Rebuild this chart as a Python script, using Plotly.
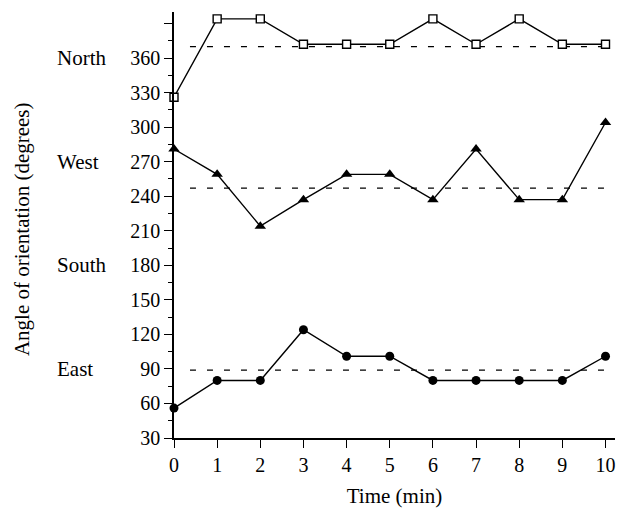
import plotly.graph_objects as go

time_min = [0, 1, 2, 3, 4, 5, 6, 7, 8, 9, 10]
north = [326, 394, 394, 372, 372, 372, 394, 372, 394, 372, 372]
west = [281, 259, 214, 237, 259, 259, 237, 281, 237, 237, 304]
east = [56, 80, 80, 124, 101, 101, 80, 80, 80, 80, 101]
mean_north = 370
mean_west = 247
mean_east = 89
mean_x = [0.37, 10.1]
direction_labels = ["North", "West", "South", "East"]
direction_angles = [360, 270, 180, 90]
ytick_vals = [30, 60, 90, 120, 150, 180, 210, 240, 270, 300, 330, 360, 390]
ytick_text = ["30", "60", "90", "120", "150", "180", "210", "240", "270", "300", "330", "360", ""]

FONT = "Liberation Serif, Times New Roman, serif"
fig = go.Figure()

for m in [mean_north, mean_west, mean_east]:
    fig.add_trace(go.Scatter(x=mean_x, y=[m, m], mode="lines",
                             line=dict(color="black", width=1.3, dash="6px,11px"),
                             showlegend=False, hoverinfo="skip"))

fig.add_trace(go.Scatter(x=time_min, y=north, mode="lines+markers",
                         line=dict(color="black", width=1.4),
                         marker=dict(symbol="square", size=8, color="white",
                                     line=dict(color="black", width=1.4)),
                         cliponaxis=False, showlegend=False))
fig.add_trace(go.Scatter(x=time_min, y=west, mode="lines+markers",
                         line=dict(color="black", width=1.4),
                         marker=dict(symbol="triangle-up", size=10, color="black"),
                         cliponaxis=False, showlegend=False))
fig.add_trace(go.Scatter(x=time_min, y=east, mode="lines+markers",
                         line=dict(color="black", width=1.4),
                         marker=dict(symbol="circle", size=9, color="black"),
                         cliponaxis=False, showlegend=False))

for lab, ang in zip(direction_labels, direction_angles):
    fig.add_annotation(x=-0.27, xref="paper", y=ang, yref="y", text=lab,
                       showarrow=False, xanchor="left", yanchor="middle",
                       font=dict(family=FONT, size=21, color="black"))

fig.add_annotation(x=-0.345, xref="paper", y=0.49, yref="paper",
                   text="Angle of orientation (degrees)", textangle=-90,
                   showarrow=False, xanchor="center", yanchor="middle",
                   font=dict(family=FONT, size=21, color="black"))

fig.update_layout(
    width=621, height=505,
    margin=dict(l=166, r=14, t=4, b=75, autoexpand=False),
    plot_bgcolor="white", paper_bgcolor="white",
    font=dict(family=FONT, size=20, color="black"),
)
fig.update_xaxes(range=[0, 10.22], tickvals=time_min, ticks="outside", ticklen=8,
                 tickwidth=1.3, tickcolor="black", showline=True, linecolor="black",
                 linewidth=1.5, showgrid=False, zeroline=False, automargin=False,
                 title=dict(text="Time (min)", standoff=14,
                            font=dict(family=FONT, size=21)))
fig.update_yaxes(range=[30, 400], tickvals=ytick_vals, ticktext=ytick_text,
                 ticks="outside", ticklen=8, tickwidth=1.3, tickcolor="black",
                 showline=True, linecolor="black", linewidth=1.5,
                 showgrid=False, zeroline=False, automargin=False,
                 minor=dict(tickvals=[45, 75, 105, 135, 165, 195, 225, 255, 285, 315, 345, 375],
                            ticks="outside", ticklen=4, tickwidth=1.3, tickcolor="black",
                            showgrid=False))

fig.write_html("out.html")
